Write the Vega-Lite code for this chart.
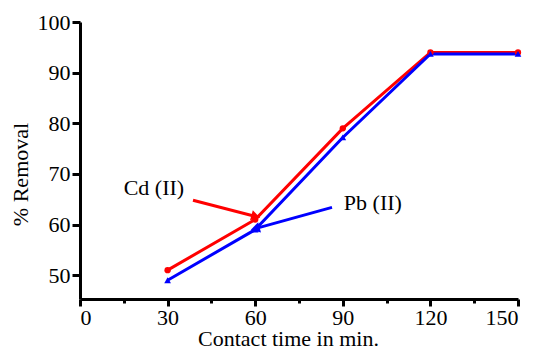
{
  "$schema": "https://vega.github.io/schema/vega-lite/v6.json",
  "width": 438,
  "height": 277,
  "autosize": "none",
  "padding": {"left": 80, "top": 22, "right": 23, "bottom": 48},
  "background": "white",
  "title": {"text": "Effect of contact time on adsorption", "anchor": "start", "frame": "group", "dx": -84, "offset": 0, "dy": 9, "baseline": "alphabetic", "font": "Liberation Serif", "fontStyle": "italic", "fontWeight": "bold", "fontSize": 28, "color": "black"},
  "config": {
    "view": {"stroke": null},
    "font": "Liberation Serif",
    "axis": {"grid": false, "domainColor": "black", "domainWidth": 3, "tickColor": "black", "tickWidth": 3, "labelFont": "Liberation Serif", "labelFontSize": 22, "labelColor": "black", "titleFont": "Liberation Serif", "titleFontSize": 22, "titleFontWeight": "normal", "titleColor": "black"}
  },
  "datasets": {
    "series": [
      {"time": 30, "removal": 51, "metal": "Cd (II)"},
      {"time": 60, "removal": 61, "metal": "Cd (II)"},
      {"time": 90, "removal": 79, "metal": "Cd (II)"},
      {"time": 120, "removal": 94, "metal": "Cd (II)"},
      {"time": 150, "removal": 94, "metal": "Cd (II)"},
      {"time": 30, "removal": 49, "metal": "Pb (II)"},
      {"time": 60, "removal": 59, "metal": "Pb (II)"},
      {"time": 90, "removal": 77.2, "metal": "Pb (II)"},
      {"time": 120, "removal": 93.7, "metal": "Pb (II)"},
      {"time": 150, "removal": 93.7, "metal": "Pb (II)"}
    ],
    "labels": [
      {"time": 25.3, "removal": 67.2, "label": "Cd (II)"},
      {"time": 100.3, "removal": 64.2, "label": "Pb (II)"}
    ],
    "cdArrow": [
      {"time": 38.7, "removal": 64.8, "time2": 60.2, "removal2": 61.6}
    ],
    "pbArrow": [
      {"time": 86.3, "removal": 63.4, "time2": 60.0, "removal2": 59.2}
    ]
  },
  "layer": [
    {
      "data": {"name": "series"},
      "transform": [{"filter": "datum.metal === 'Cd (II)'"}],
      "mark": {"type": "line", "color": "#ff0000", "strokeWidth": 3},
      "encoding": {
        "x": {"field": "time", "type": "quantitative", "scale": {"domain": [0, 150], "nice": false, "zero": false},
          "axis": {"values": [0, 15, 30, 45, 60, 75, 90, 105, 120, 135, 150], "labelExpr": "datum.value % 30 === 0 ? datum.label : ''", "tickSize": {"condition": {"test": "datum.value % 30 === 0", "value": 7}, "value": 4}, "labelPadding": 1, "title": "Contact time in min.", "titleX": 208, "titleY": 46, "titleBaseline": "alphabetic", "titleAnchor": "middle"}},
        "y": {"field": "removal", "type": "quantitative", "scale": {"domain": [45.3, 100], "nice": false, "zero": false},
          "axis": {"values": [50, 55, 60, 65, 70, 75, 80, 85, 90, 95, 100], "labelExpr": "datum.value % 10 === 0 ? datum.label : ''", "tickSize": {"condition": {"test": "datum.value % 10 === 0", "value": 8}, "value": 4}, "labelPadding": 2, "title": "% Removal", "titleX": -60, "titleY": 152, "titleBaseline": "middle", "titleAnchor": "middle"}}
      }
    },
    {
      "data": {"name": "series"},
      "transform": [{"filter": "datum.metal === 'Pb (II)'"}],
      "mark": {"type": "line", "color": "#0000ff", "strokeWidth": 3},
      "encoding": {
        "x": {"field": "time", "type": "quantitative"},
        "y": {"field": "removal", "type": "quantitative"}
      }
    },
    {
      "data": {"name": "series"},
      "transform": [{"filter": "datum.metal === 'Cd (II)'"}],
      "mark": {"type": "point", "shape": "circle", "filled": true, "color": "#ff0000", "size": 40, "opacity": 1},
      "encoding": {
        "x": {"field": "time", "type": "quantitative"},
        "y": {"field": "removal", "type": "quantitative"}
      }
    },
    {
      "data": {"name": "series"},
      "transform": [{"filter": "datum.metal === 'Pb (II)'"}],
      "mark": {"type": "point", "shape": "triangle-up", "filled": true, "color": "#0000ff", "size": 45, "opacity": 1},
      "encoding": {
        "x": {"field": "time", "type": "quantitative"},
        "y": {"field": "removal", "type": "quantitative"}
      }
    },
    {
      "data": {"name": "cdArrow"},
      "mark": {"type": "rule", "color": "#ff0000", "strokeWidth": 3},
      "encoding": {
        "x": {"field": "time", "type": "quantitative"},
        "y": {"field": "removal", "type": "quantitative"},
        "x2": {"field": "time2"},
        "y2": {"field": "removal2"}
      }
    },
    {
      "data": {"name": "cdArrow"},
      "mark": {"type": "point", "shape": "triangle-up", "filled": true, "color": "#ff0000", "size": 110, "opacity": 1, "angle": 105.5},
      "encoding": {
        "x": {"field": "time2", "type": "quantitative"},
        "y": {"field": "removal2", "type": "quantitative"}
      }
    },
    {
      "data": {"name": "pbArrow"},
      "mark": {"type": "rule", "color": "#0000ff", "strokeWidth": 3},
      "encoding": {
        "x": {"field": "time", "type": "quantitative"},
        "y": {"field": "removal", "type": "quantitative"},
        "x2": {"field": "time2"},
        "y2": {"field": "removal2"}
      }
    },
    {
      "data": {"name": "pbArrow"},
      "mark": {"type": "point", "shape": "triangle-up", "filled": true, "color": "#0000ff", "size": 110, "opacity": 1, "angle": 254.4},
      "encoding": {
        "x": {"field": "time2", "type": "quantitative"},
        "y": {"field": "removal2", "type": "quantitative"}
      }
    },
    {
      "data": {"name": "labels"},
      "mark": {"type": "text", "font": "Liberation Serif", "fontSize": 22, "color": "black", "align": "center", "baseline": "middle"},
      "encoding": {
        "x": {"field": "time", "type": "quantitative"},
        "y": {"field": "removal", "type": "quantitative"},
        "text": {"field": "label"}
      }
    }
  ]
}
